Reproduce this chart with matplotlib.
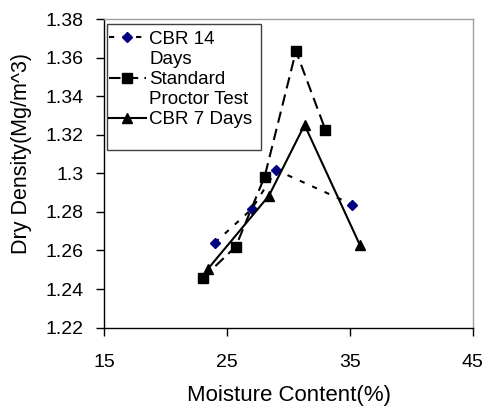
import matplotlib
matplotlib.use("Agg")
import matplotlib.pyplot as plt
from matplotlib.patches import Rectangle
from matplotlib.lines import Line2D

plt.rcParams['font.family'] = ['Liberation Sans', 'DejaVu Sans']

cbr14_x = [24.0, 27.0, 29.0, 35.2]
cbr14_y = [1.264, 1.2815, 1.3017, 1.2838]
proctor_x = [23.0, 25.7, 28.05, 30.6, 33.0]
proctor_y = [1.2456, 1.262, 1.2983, 1.3634, 1.3225]
cbr7_x = [23.4, 28.4, 31.3, 35.8]
cbr7_y = [1.2502, 1.2884, 1.3251, 1.2629]

x_ticks = [15, 25, 35, 45]
y_ticks = [1.22, 1.24, 1.26, 1.28, 1.3, 1.32, 1.34, 1.36, 1.38]
y_tick_labels = ["1.22", "1.24", "1.26", "1.28", "1.3", "1.32", "1.34", "1.36", "1.38"]

labels = ["CBR 14\nDays", "Standard\nProctor Test", "CBR 7 Days"]

fig = plt.figure(figsize=(4.87, 4.09), dpi=100)
ax = fig.add_axes([0.2142, 0.1989, 0.971 - 0.2142, 0.9535 - 0.1989])

l1, = ax.plot(cbr14_x, cbr14_y, color='black', lw=1.5, linestyle=(0, (2.5, 4)),
              marker='D', markersize=5, markerfacecolor='#000080', markeredgecolor='#000080')
l2, = ax.plot(proctor_x, proctor_y, color='black', lw=1.5, linestyle=(0, (5.5, 3)),
              marker='s', markersize=6.5, markerfacecolor='black', markeredgecolor='black')
l3, = ax.plot(cbr7_x, cbr7_y, color='black', lw=1.5, linestyle='-',
              marker='^', markersize=6.5, markerfacecolor='black', markeredgecolor='black')

ax.set_xlim(15, 45)
ax.set_ylim(1.22, 1.38)
ax.set_xticks(x_ticks)
ax.set_yticks(y_ticks)
ax.set_yticklabels(y_tick_labels)
ax.tick_params(axis='both', labelsize=14, length=6, width=1, direction='out', color='black')
ax.tick_params(axis='x', pad=13)
ax.tick_params(axis='y', pad=9)

for s in ['left', 'bottom']:
    ax.spines[s].set_color('black')
    ax.spines[s].set_linewidth(1)
for s in ['top', 'right']:
    ax.spines[s].set_color('#a0a0a0')
    ax.spines[s].set_linewidth(1)

ax.set_xlabel("Moisture Content(%)", fontsize=16)
ax.xaxis.set_label_coords(0.5, -0.186)
ax.set_ylabel("Dry Density(Mg/m^3)", fontsize=15.5)
ax.yaxis.set_label_coords(-0.196, 0.564)

# legend box (Excel-style, with extra empty space at bottom)
ax.add_patch(Rectangle((0.0064, 0.5756), 0.425 - 0.0064, 0.984 - 0.5756,
                       transform=ax.transAxes, facecolor='white', edgecolor='#404040',
                       linewidth=1, zorder=4))

# legend rows: handle on the first line of each wrapped label
handles, rows = [], []
for h, lab in zip([l1, l2, l3], labels):
    parts = lab.split("\n")
    handles.append(h)
    rows.append(parts[0])
    for p in parts[1:]:
        handles.append(Line2D([], [], color='none'))
        rows.append(p)

leg = ax.legend(handles, rows, loc='upper left', bbox_to_anchor=(0.012, 0.962),
                borderaxespad=0, fontsize=13.5, frameon=False,
                handlelength=2.0, handletextpad=0.15, labelspacing=0.16,
                borderpad=0.0)
leg.set_zorder(5)

fig.savefig("out.png", dpi=100)
